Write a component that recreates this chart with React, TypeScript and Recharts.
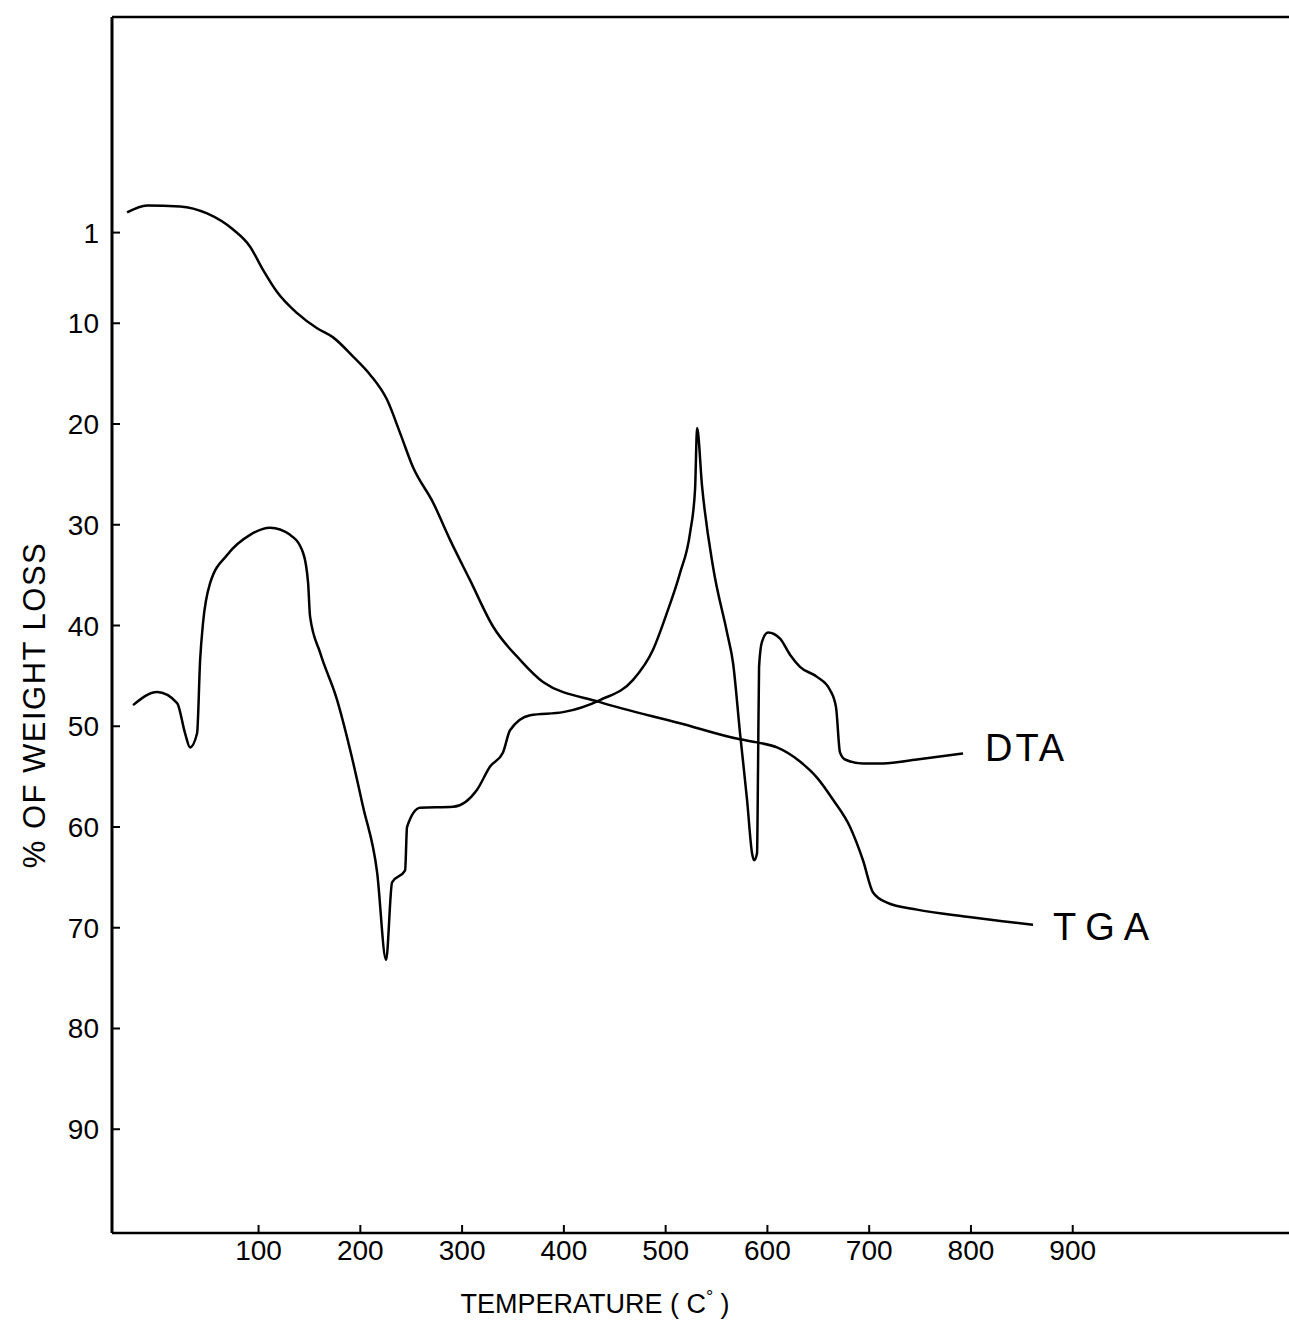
import { LabelList, Line, LineChart, XAxis, YAxis } from "recharts"

// temperatures (°C) and values
const tgaTemp = [
  -29.2, -9.5, 22.9, 49.4, 75.0, 91.7, 104.4, 118.2, 137.9, 157.5, 173.2, 192.9, 209.6, 226.3, 239.1, 251.8,
  271.5, 288.2, 307.8, 330.4, 356.9, 379.5, 435.5, 514.1, 573.1, 589.8, 609.4, 632.0, 648.7, 664.5, 681.2,
  693.9, 703.8, 717.5, 747.0, 796.1, 861.0,
]
const tgaLoss = [
  -1.0, -1.7, -1.6, -0.9, 0.7, 2.4, 4.7, 6.9, 9.0, 10.5, 11.4, 13.3, 15.1, 17.6, 20.9, 24.3, 27.8, 31.5, 35.5,
  40.1, 43.4, 45.6, 47.6, 49.7, 51.3, 51.6, 52.1, 53.5, 55.1, 57.3, 60.0, 63.3, 66.5, 67.5, 68.2, 68.9, 69.7,
]

const dtaTemp = [
  -23.3, 0.3, 20.0, 27.8, 32.7, 39.6, 42.6, 45.5, 52.4, 69.1, 91.7, 111.3, 131.0, 143.8, 148.7, 150.6, 160.5,
  177.2, 189.9, 202.7, 216.5, 225.3, 231.2, 244.0, 245.9, 258.7, 291.1, 314.7, 327.5, 340.2, 347.1, 366.8,
  399.2, 435.5, 468.0, 487.6, 501.4, 514.1, 524.0, 528.9, 530.9, 535.8, 546.6, 560.3, 566.2, 573.1, 580.0,
  584.9, 586.9, 589.8, 590.8, 591.8, 594.7, 600.6, 612.4, 622.2, 632.0, 648.7, 661.5, 667.4, 671.3, 676.3,
  693.9, 713.6, 747.0, 792.2,
]
const dtaSignal = [
  47.9, 46.6, 47.7, 50.7, 52.1, 50.7, 43.4, 39.7, 35.8, 33.0, 31.0, 30.3, 31.0, 32.8, 35.8, 39.1, 42.7, 47.4,
  52.3, 58.0, 64.5, 73.2, 65.5, 64.3, 60.0, 58.1, 58.0, 56.3, 54.0, 52.6, 50.4, 48.9, 48.6, 47.4, 45.4, 42.4,
  38.7, 34.8, 30.8, 26.5, 20.4, 26.2, 34.2, 40.7, 43.7, 50.7, 57.3, 62.6, 63.3, 62.6, 54.0, 44.1, 41.6, 40.7,
  41.3, 42.9, 44.1, 45.1, 46.4, 48.1, 52.6, 53.3, 53.7, 53.7, 53.3, 52.7,
]

const xTicks = [100, 200, 300, 400, 500, 600, 700, 800, 900]
const yTicks = [1, 10, 20, 30, 40, 50, 60, 70, 80, 90]

const tgaData = tgaTemp.map((t, i) => ({ t, v: tgaLoss[i] }))
const dtaData = dtaTemp.map((t, i) => ({ t, v: dtaSignal[i] }))

const FONT = "'Liberation Sans', Arial, sans-serif"

const YTick = (props: any) => {
  const { x, y, payload } = props
  return (
    <g>
      <line x1={x + 13} x2={x + 21} y1={y} y2={y} stroke="#000" strokeWidth={2} />
      <text x={x} y={y} dy={10} textAnchor="end" fontSize={28} fontFamily={FONT} fill="#000">
        {payload.value}
      </text>
    </g>
  )
}

const XTick = (props: any) => {
  const { x, y, payload } = props
  return (
    <g>
      <line x1={x} x2={x} y1={y - 5} y2={y - 13} stroke="#000" strokeWidth={2} />
      <text x={x} y={y + 22} textAnchor="middle" fontSize={28} fontFamily={FONT} fill="#000">
        {payload.value}
      </text>
    </g>
  )
}

const endLabel = (name: string, last: number, dx: number, dy: number, spacing: number, size: number) =>
  (props: any) => {
    if (props.index !== last) return null
    return (
      <text
        x={props.x + dx}
        y={props.y + dy}
        fontSize={size}
        letterSpacing={spacing}
        fontFamily={FONT}
        fill="#000"
      >
        {name}
      </text>
    )
  }

export default function App() {
  return (
    <div style={{ position: "absolute", left: 0, top: 0, width: 1289, height: 1329, background: "#fff" }}>
      <LineChart width={1289} height={1329} margin={{ top: 16, right: 0, left: 0, bottom: 46 }}>
        <XAxis
          xAxisId="top"
          orientation="top"
          dataKey="t"
          type="number"
          domain={[-44, 1112.5]}
          height={1}
          tick={false}
          tickLine={false}
          axisLine={{ stroke: "#000", strokeWidth: 2.5 }}
        />
        <XAxis
          dataKey="t"
          type="number"
          domain={[-44, 1112.5]}
          ticks={xTicks}
          height={50}
          tickSize={0}
          tickMargin={5}
          tick={<XTick />}
          axisLine={{ stroke: "#000", strokeWidth: 2.5 }}
          allowDataOverflow
        />
        <YAxis
          dataKey="v"
          type="number"
          domain={[-20.4, 100.3]}
          reversed
          ticks={yTicks}
          width={112}
          tickSize={0}
          tickMargin={13}
          tick={<YTick />}
          axisLine={{ stroke: "#000", strokeWidth: 3 }}
          allowDataOverflow
        />
        <Line
          data={tgaData}
          dataKey="v"
          type="monotone"
          stroke="#000"
          strokeWidth={2.5}
          dot={false}
          isAnimationActive={false}
        >
          <LabelList dataKey="v" content={endLabel("TGA", tgaData.length - 1, 20, 15, 9, 38)} />
        </Line>
        <Line
          data={dtaData}
          dataKey="v"
          type="monotone"
          stroke="#000"
          strokeWidth={2.5}
          dot={false}
          isAnimationActive={false}
        >
          <LabelList dataKey="v" content={endLabel("DTA", dtaData.length - 1, 22, 8, 3, 38)} />
        </Line>
      </LineChart>
      <div
        style={{
          position: "absolute",
          left: 35,
          top: 705,
          transform: "translate(-50%, -50%) rotate(-90deg)",
          whiteSpace: "nowrap",
          fontFamily: FONT,
          fontSize: 31,
          letterSpacing: 1.5,
          color: "#000",
        }}
      >
        % OF WEIGHT LOSS
      </div>
      <div
        style={{
          position: "absolute",
          left: 595,
          top: 1303,
          transform: "translate(-50%, -50%)",
          whiteSpace: "nowrap",
          fontFamily: FONT,
          fontSize: 27,
          color: "#000",
        }}
      >
        TEMPERATURE ( C<sup style={{ fontSize: 18 }}>°</sup> )
      </div>
    </div>
  )
}
